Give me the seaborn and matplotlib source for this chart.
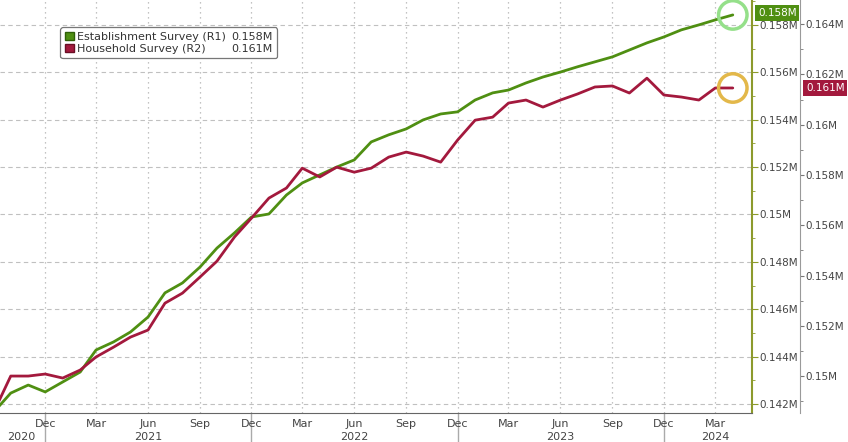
import pandas as pd
import seaborn as sns
import matplotlib.pyplot as plt
import matplotlib.dates as mdates
import matplotlib.ticker as mticker
import matplotlib.transforms as mtransforms
from matplotlib.patches import Patch

# Data (millions), monthly Sep 2020 - Apr 2024
months = pd.date_range("2020-09-01", "2024-04-01", freq="MS")
establishment = [0.14166, 0.14246, 0.14280, 0.14251, 0.14293, 0.14335, 0.14428, 0.14462,
                 0.14504, 0.14567, 0.14669, 0.14711, 0.14778, 0.14858, 0.14922, 0.14989,
                 0.15002, 0.15082, 0.15133, 0.15167, 0.15200, 0.15230, 0.15306, 0.15336,
                 0.15361, 0.15399, 0.15424, 0.15433, 0.15483, 0.15513, 0.15525, 0.15555,
                 0.15580, 0.15601, 0.15623, 0.15644, 0.15665, 0.15694, 0.15724, 0.15749,
                 0.15779, 0.15800, 0.15821, 0.15842]
household = [0.14857, 0.15000, 0.15000, 0.15008, 0.14992, 0.15024, 0.15076, 0.15115,
             0.15155, 0.15183, 0.15290, 0.15330, 0.15394, 0.15457, 0.15553, 0.15628,
             0.15708, 0.15748, 0.15827, 0.15792, 0.15831, 0.15811, 0.15827, 0.15871,
             0.15891, 0.15875, 0.15851, 0.15939, 0.16018, 0.16030, 0.16086, 0.16098,
             0.16070, 0.16098, 0.16122, 0.16150, 0.16154, 0.16126, 0.16185, 0.16118,
             0.16110, 0.16098, 0.16146, 0.16146]
series_names = ["Establishment Survey (R1)", "Household Survey (R2)"]
year_labels = ["2020", "2021", "2022", "2023", "2024"]
year_label_dates = pd.to_datetime(["2020-10-20", "2021-06-01", "2022-06-01", "2023-06-01", "2024-03-01"])
year_breaks = pd.to_datetime(["2020-12-01", "2021-12-01", "2022-12-01", "2023-12-01"])

df = pd.DataFrame({"date": months, "est": establishment, "hh": household})

green = "#4f8f12"
red = "#a3193d"

sns.set_style("white")
plt.rcParams["font.family"] = ["DejaVu Sans"]

fig = plt.figure(figsize=(8.48, 4.42), dpi=100)
ax = fig.add_axes([0, 29 / 442, 752 / 848, 413 / 442])

sns.lineplot(data=df, x="date", y="est", ax=ax, color=green, linewidth=2.0, zorder=3)
ax2 = ax.twinx()
sns.lineplot(data=df, x="date", y="hh", ax=ax2, color=red, linewidth=2.0, zorder=3)

ax.set_xlim(pd.Timestamp("2020-09-12"), pd.Timestamp("2024-05-05"))
ax.set_ylim(0.14162, 0.15905)
ax2.set_ylim(0.14853, 0.16496)

for a in (ax, ax2):
    a.set_xlabel("")
    a.set_ylabel("")
    a.spines["top"].set_visible(False)
    a.spines["left"].set_visible(False)

# R1 axis on the right
ax.yaxis.tick_right()
ax.spines["right"].set_color("#8c9a2c")
ax.spines["right"].set_linewidth(1.5)
ax.spines["bottom"].set_color("#666666")
ax.yaxis.set_major_locator(mticker.MultipleLocator(0.002))
ax.yaxis.set_minor_locator(mticker.MultipleLocator(0.001))
fmt = mticker.FuncFormatter(lambda v, p: f"{round(v, 3):g}M")
ax.yaxis.set_major_formatter(fmt)
ax.tick_params(axis="y", which="both", direction="out", color="#8c9a2c", labelsize=7.5,
               labelcolor="#444444", pad=1)
ax.tick_params(axis="y", which="major", length=4)
ax.tick_params(axis="y", which="minor", length=2)

# R2 axis further out (48 px)
ax2.spines["right"].set_position(("outward", 34.5))
ax2.spines["right"].set_color("#9a9a9a")
ax2.spines["bottom"].set_visible(False)
ax2.yaxis.set_major_locator(mticker.MultipleLocator(0.002))
ax2.yaxis.set_minor_locator(mticker.MultipleLocator(0.001))
ax2.yaxis.set_major_formatter(fmt)
ax2.tick_params(axis="y", which="both", direction="out", color="#777777", labelsize=7.5,
                labelcolor="#444444", pad=1)
ax2.tick_params(axis="y", which="major", length=3)
ax2.tick_params(axis="y", which="minor", length=2)

# x axis
ax.xaxis.set_major_locator(mdates.MonthLocator(bymonth=[3, 6, 9, 12]))
ax.xaxis.set_minor_locator(mdates.MonthLocator())
ax.xaxis.set_major_formatter(mdates.DateFormatter("%b"))
ax.tick_params(axis="x", which="both", direction="out", color="#666666", labelsize=8,
               labelcolor="#444444", pad=1)
ax.tick_params(axis="x", which="major", length=3)
ax.tick_params(axis="x", which="minor", length=2)

trans = mtransforms.blended_transform_factory(ax.transData, ax.transAxes)
for d, t in zip(year_label_dates, year_labels):
    ax.text(d, -0.058, t, transform=trans, ha="center", va="center", fontsize=8, color="#444444")

sec = ax.secondary_xaxis("bottom")
sec.set_xticks(mdates.date2num(year_breaks))
sec.set_xticklabels([])
sec.tick_params(axis="x", length=28, color="#aaaaaa", width=1)
sec.spines["bottom"].set_visible(False)

# grid
ax.grid(axis="y", linestyle=(0, (4, 3)), color="#c0c0c0", linewidth=0.8)
ax.grid(axis="x", linestyle=(0, (1, 3)), color="#b0b0b0", linewidth=0.9)
ax.set_axisbelow(True)

# end circles
ax.scatter([months[-1]], [establishment[-1]], s=420, facecolors="none", edgecolors="#95e08a",
           linewidths=2.5, zorder=5, clip_on=False)
ax2.scatter([months[-1]], [household[-1]], s=420, facecolors="none", edgecolors="#e3b84a",
            linewidths=2.5, zorder=5, clip_on=False)

# last value tags
ax.annotate(f"{establishment[-1]:.3f}M", xy=(1, establishment[-1]),
            xycoords=("axes fraction", "data"), xytext=(6, 2), textcoords="offset pixels",
            ha="left", va="center", fontsize=7.5, color="white", zorder=6,
            bbox=dict(boxstyle="square,pad=0.25", fc=green, ec="none"), annotation_clip=False)
ax2.annotate(f"{household[-1]:.3f}M", xy=(1, household[-1]),
             xycoords=("axes fraction", "data"), xytext=(54, 0), textcoords="offset pixels",
             ha="left", va="center", fontsize=7.5, color="white", zorder=6,
             bbox=dict(boxstyle="square,pad=0.25", fc=red, ec="none"), annotation_clip=False)

# legend
handles = [Patch(facecolor=green, edgecolor="#2f5f08"), Patch(facecolor=red, edgecolor="#6a0f25"),
           Patch(alpha=0), Patch(alpha=0)]
labels = [series_names[0], series_names[1], f"{establishment[-1]:.3f}M", f"{household[-1]:.3f}M"]
leg = ax2.legend(handles, labels, ncol=2, loc="upper left", bbox_to_anchor=(0.073, 0.947),
                 fontsize=8, handlelength=0.8, handleheight=0.8, handletextpad=0.3,
                 columnspacing=-0.6, labelspacing=0.15, borderpad=0.4, frameon=True,
                 fancybox=True, framealpha=1, edgecolor="#777777")
leg.get_frame().set_linewidth(0.9)
for t in leg.get_texts():
    t.set_color("#333333")

fig.savefig("out.png", dpi=100)
